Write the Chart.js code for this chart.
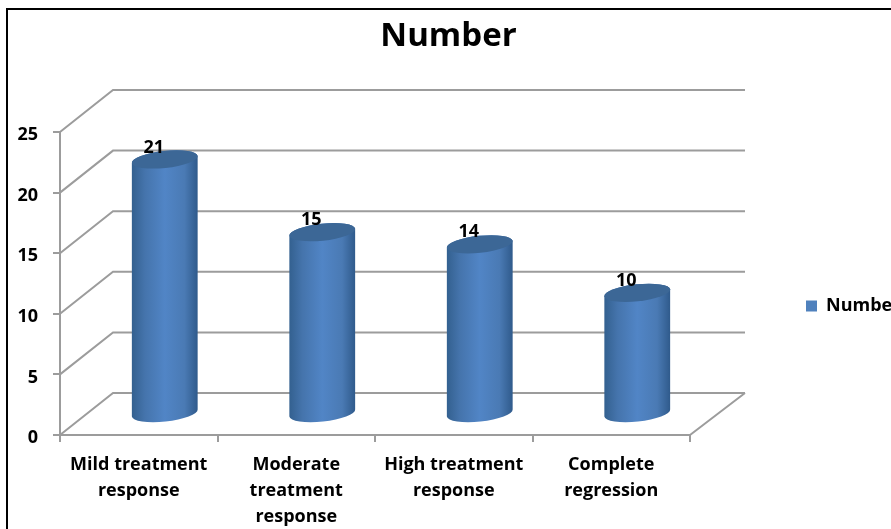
<!DOCTYPE html>
<html>
<head>
<meta charset="utf-8">
<title>Number</title>
<script src="https://cdn.jsdelivr.net/npm/chart.js@4"></script>
<style>
    html, body { margin: 0; padding: 0; background: #fff; overflow: hidden; }
    #myChart { position: absolute; left: 0; top: 0; }
    #frame { position: absolute; left: 6px; top: 8px; width: 1000px; height: 700px; border: 2px solid #000; }
</style>
</head>
<body>
<canvas id="myChart" width="891" height="529"></canvas>
<div id="frame"></div>
<script>
const categories = [
    ['Mild treatment', 'response'],
    ['Moderate', 'treatment', 'response'],
    ['High treatment', 'response'],
    ['Complete', 'regression']
];
const numberValues = [21, 15, 14, 10];
const valueTicks = [0, 5, 10, 15, 20, 25];

const fontFamily = '"Open Sans", sans-serif';
const gridColor = '#9c9c9c';
const blue = '#4f81bd';

// offset of the back wall from the front of the chart
const wallDx = 53;
const wallDy = 42;
const floorRightDx = 55;
const backRight = 745;

// bars stand half way into the depth of the floor
const barDx = 26;
const barDy = 21;
const capRy = 8.5;
const tilt = -6 * Math.PI / 180;

const wallPlugin = {
    id: 'wall',
    beforeDatasetsDraw(chart) {
        const { ctx, scales: { y }, chartArea } = chart;
        ctx.save();
        ctx.strokeStyle = gridColor;
        ctx.lineWidth = 2;
        ctx.beginPath();
        for (const value of valueTicks) {
            const py = y.getPixelForValue(value);
            ctx.moveTo(chartArea.left, py);
            ctx.lineTo(chartArea.left + wallDx, py - wallDy);
            ctx.lineTo(backRight, py - wallDy);
        }
        const floorY = y.getPixelForValue(0);
        ctx.moveTo(chartArea.right, floorY);
        ctx.lineTo(chartArea.right + floorRightDx, floorY - wallDy);
        ctx.stroke();
        ctx.restore();
    }
};

const drawCylinder = (ctx, bar) => {
    const cx = bar.x + barDx;
    const rx = bar.width / 2;
    const topY = bar.y - barDy;
    const baseY = bar.base - barDy;

    const side = ctx.createLinearGradient(cx - rx, 0, cx + rx, 0);
    side.addColorStop(0, '#33608f');
    side.addColorStop(0.2, '#4574ac');
    side.addColorStop(0.5, '#5185c6');
    side.addColorStop(0.8, '#4a7ab4');
    side.addColorStop(1, '#2f5a8b');

    ctx.beginPath();
    ctx.ellipse(cx, baseY, rx, capRy, tilt, 0, Math.PI);
    ctx.ellipse(cx, topY, rx, capRy, tilt, Math.PI, 2 * Math.PI);
    ctx.closePath();
    ctx.fillStyle = side;
    ctx.fill();

    ctx.beginPath();
    ctx.ellipse(cx, topY, rx, capRy, tilt, 0, 2 * Math.PI);
    ctx.fillStyle = '#3c6796';
    ctx.fill();
};

const cylinderPlugin = {
    id: 'cylinders',
    // replaces the flat bars with cylinders, value labels go on top
    beforeDatasetDraw(chart, args) {
        const { ctx } = chart;
        ctx.save();
        args.meta.data.forEach((bar) => drawCylinder(ctx, bar));
        ctx.fillStyle = '#000';
        ctx.font = `bold 18px ${fontFamily}`;
        ctx.textAlign = 'center';
        ctx.textBaseline = 'middle';
        args.meta.data.forEach((bar, i) => {
            ctx.fillText(numberValues[i], bar.x + 15, bar.y - barDy - 12);
        });
        ctx.restore();
        return false;
    }
};

// title is centred on the whole page, legend runs off the edge of the canvas
const placementPlugin = {
    id: 'placement',
    afterLayout(chart) {
        chart.titleBlock.left = 6;
        chart.titleBlock.right = 891;

        const legend = chart.legend;
        legend.left = 796;
        legend.right = 1000;
        legend.top = 293;
        legend.bottom = 319;
    },
    // y labels sit a little below their ticks
    afterUpdate(chart) {
        chart.scales.y.getLabelItems().forEach((item) => {
            item.options.translation[1] += 3;
        });
    }
};

new Chart('myChart', {
    type: 'bar',
    data: {
        labels: categories,
        datasets: [{
            label: 'Number',
            data: numberValues,
            backgroundColor: blue,
            categoryPercentage: 1,
            barPercentage: 0.42
        }]
    },
    plugins: [wallPlugin, cylinderPlugin, placementPlugin],
    options: {
        responsive: false,
        animation: false,
        layout: { padding: { left: 6, right: 201, top: 0, bottom: 0 } },
        plugins: {
            title: {
                display: true,
                text: 'Number',
                color: '#000',
                font: { family: fontFamily, size: 33, weight: 'bold' },
                padding: { top: 17, bottom: 75.4 }
            },
            legend: {
                position: 'chartArea',
                labels: {
                    boxWidth: 11,
                    boxHeight: 11,
                    padding: 10,
                    color: '#000',
                    font: { family: fontFamily, size: 18, weight: 'bold' }
                }
            },
            tooltip: { enabled: false }
        },
        scales: {
            x: {
                afterFit: (scale) => { scale.height = 94; },
                border: { color: gridColor, width: 2 },
                grid: { drawOnChartArea: false, color: gridColor, lineWidth: 2, tickLength: 7 },
                ticks: {
                    color: '#000',
                    padding: 10,
                    maxRotation: 0,
                    autoSkip: false,
                    font: { family: fontFamily, size: 18, weight: 'bold', lineHeight: 1.45 }
                }
            },
            y: {
                min: 0,
                max: 25,
                afterFit: (scale) => { scale.width = 54; },
                afterBuildTicks: (scale) => { scale.ticks = valueTicks.map((value) => ({ value })); },
                border: { color: gridColor, width: 2 },
                grid: { drawOnChartArea: false, color: gridColor, lineWidth: 2, tickLength: 7 },
                ticks: {
                    color: '#000',
                    padding: 15,
                    font: { family: fontFamily, size: 18, weight: 'bold' }
                }
            }
        }
    }
});
</script>
</body>
</html>
